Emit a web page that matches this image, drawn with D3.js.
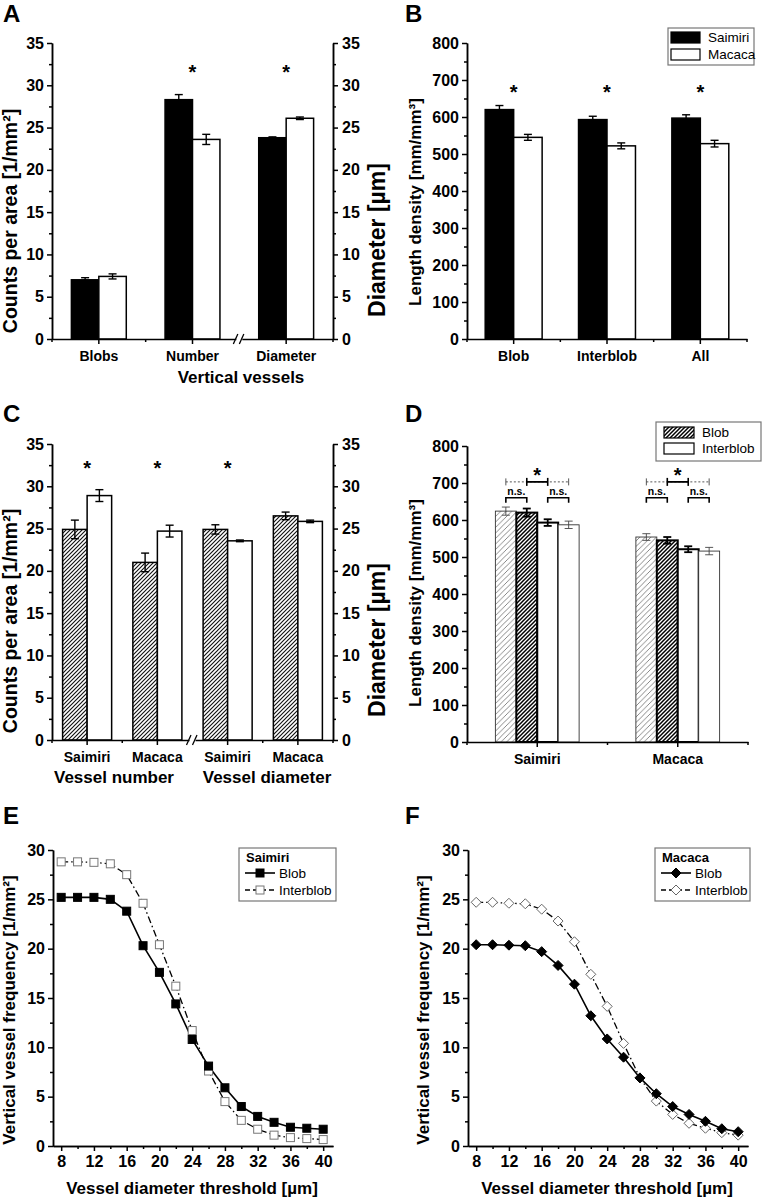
<!DOCTYPE html>
<html><head><meta charset="utf-8">
<script src="https://cdn.jsdelivr.net/npm/d3@7"></script>
<style>
body{margin:0;background:#fff}
svg text{font-family:"Liberation Sans",Arial,Helvetica,sans-serif}
</style>
</head><body>
<svg id="chart" width="762" height="1199"></svg>
<script>
// ---------------- DATA ----------------
const aCategories = ["Blobs", "Number", "Diameter"];
const aSaimiri = [7.0, 28.3, 23.8];
const aSaimiriErr = [0.25, 0.6, 0.1];
const aMacaca = [7.4, 23.6, 26.1];
const aMacacaErr = [0.3, 0.6, 0.15];
const aSignificant = [false, true, true];

const bCategories = ["Blob", "Interblob", "All"];
const bSaimiri = [620, 593, 597];
const bSaimiriErr = [11, 9, 9];
const bMacaca = [545, 522, 528];
const bMacacaErr = [8, 8, 9];
const bSignificant = [true, true, true];

const cCategories = ["Saimiri", "Macaca", "Saimiri", "Macaca"];
const cGroupLabels = ["Vessel number", "Vessel diameter"];
const cBlob = [24.9, 21.0, 24.9, 26.5];
const cBlobErr = [1.1, 1.1, 0.55, 0.45];
const cInterblob = [28.9, 24.7, 23.55, 25.85];
const cInterblobErr = [0.7, 0.7, 0.1, 0.15];
const cSignificant = [true, true, true, false];

const dCategories = ["Saimiri", "Macaca"];
const dBlobLight = [624, 554];
const dBlobLightErr = [11, 9];
const dBlob = [620, 545];
const dBlobErr = [11, 9];
const dInterblob = [593, 521];
const dInterblobErr = [9, 8];
const dInterblobLight = [587, 516];
const dInterblobLightErr = [10, 10];

const thresholds = [8, 10, 12, 14, 16, 18, 20, 22, 24, 26, 28, 30, 32, 34, 36, 38, 40];
const eSaimiriBlob = [25.2, 25.2, 25.2, 25.0, 23.8, 20.3, 17.6, 14.4, 10.8, 8.1, 5.9, 4.0, 3.0, 2.4, 1.9, 1.8, 1.7];
const eSaimiriInterblob = [28.8, 28.8, 28.75, 28.6, 27.5, 24.6, 20.4, 16.2, 11.7, 7.6, 4.5, 2.6, 1.7, 1.1, 0.85, 0.75, 0.65];
const fMacacaBlob = [20.4, 20.4, 20.35, 20.3, 19.7, 18.3, 16.4, 13.2, 10.85, 9.0, 6.9, 5.3, 4.0, 3.2, 2.5, 1.75, 1.45];
const fMacacaInterblob = [24.7, 24.7, 24.6, 24.55, 24.0, 22.8, 20.7, 17.4, 14.15, 10.4, 6.9, 4.55, 3.2, 2.3, 1.8, 1.35, 1.1];

// ---------------- SETUP ----------------
const svg = d3.select("#chart");
const defs = svg.append("defs");
function hatch(id, s, w, color) {
  const p = defs.append("pattern").attr("id", id).attr("patternUnits", "userSpaceOnUse")
    .attr("width", s).attr("height", s);
  p.append("rect").attr("width", s).attr("height", s).attr("fill", "#fff");
  p.append("path")
    .attr("d", `M${-s/2},${s/2}L${s/2},${-s/2}M0,${s}L${s},0M${s/2},${s*1.5}L${s*1.5},${s/2}`)
    .attr("stroke", color).attr("stroke-width", w);
}
hatch("hatchC", 4, 1.15, "#111");
hatch("hatchLight", 5.5, 0.7, "#555");
hatch("hatchBold", 4, 1.5, "#000");

const TICKFONT = 16, CATFONT = 14, TITLEFONT = 17;

function styleAxis(g) {
  g.selectAll(".domain").attr("stroke", "#000").attr("stroke-width", 1.5);
  g.selectAll(".tick line").attr("stroke", "#000").attr("stroke-width", 1.5);
  g.selectAll(".tick text").attr("fill", "#000").attr("font-weight", "bold")
    .style("font-family", '"Liberation Sans",Arial,sans-serif');
}

function yAxis(g, y, majors, minors, side, xpos, pad) {
  const mk = side === "left" ? d3.axisLeft : d3.axisRight;
  const gm = g.append("g").attr("transform", `translate(${xpos},0)`)
    .call(mk(y).tickValues(minors).tickSize(3).tickSizeOuter(0).tickFormat(""));
  styleAxis(gm);
  const gM = g.append("g").attr("transform", `translate(${xpos},0)`)
    .call(mk(y).tickValues(majors).tickSize(5).tickSizeOuter(0).tickPadding(pad));
  styleAxis(gM);
  gM.selectAll(".tick text").attr("font-size", TICKFONT);
}

function rotLabel(g, text, x, y, size) {
  g.append("text").attr("transform", `translate(${x},${y}) rotate(-90)`)
    .attr("text-anchor", "middle").attr("font-size", size || TITLEFONT).attr("font-weight", "bold")
    .text(text);
}

function panelLetter(g, t, x, y) {
  g.append("text").attr("x", x).attr("y", y).attr("font-size", 24).attr("font-weight", "bold").text(t);
}

function breakMark(g, x, y) {
  g.append("rect").attr("x", x - 3).attr("y", y - 3).attr("width", 6).attr("height", 6).attr("fill", "#fff");
  [-3, 3].forEach(dx => {
    g.append("line").attr("x1", x + dx - 3).attr("y1", y + 5).attr("x2", x + dx + 1.5).attr("y2", y - 5)
      .attr("stroke", "#000").attr("stroke-width", 1.3);
  });
}

// Generic bar panel
function barPanel(o) {
  const g = svg.append("g");
  const y = d3.scaleLinear().domain([0, o.yMax]).range([o.yB, o.yT]);
  const x = d3.scaleBand().domain(o.categories.map((c, i) => i)).range([o.xL, o.xR]).paddingInner(0).paddingOuter(0);
  const bw = x.bandwidth() * o.barFrac;
  const n = o.series.length;
  const inner = d3.scaleBand().domain(d3.range(n)).range([-bw * n / 2, bw * n / 2]);

  o.series.forEach((s, si) => {
    o.categories.forEach((c, i) => {
      const cx = x(i) + x.bandwidth() / 2;
      const x0 = cx + inner(si);
      g.append("rect").attr("x", x0).attr("y", y(s.values[i])).attr("width", inner.bandwidth())
        .attr("height", y(0) - y(s.values[i]))
        .attr("fill", s.fill).attr("stroke", s.stroke || "#000").attr("stroke-width", s.sw || 1.5);
      const ex = x0 + inner.bandwidth() / 2;
      const e = s.errs[i];
      const eg = g.append("g").attr("stroke", s.errColor || "#000").attr("stroke-width", s.esw || 1.4);
      const cw = s.capW || 4;
      eg.append("line").attr("x1", ex).attr("x2", ex).attr("y1", y(s.values[i] - e)).attr("y2", y(s.values[i] + e));
      eg.append("line").attr("x1", ex - cw).attr("x2", ex + cw).attr("y1", y(s.values[i] + e)).attr("y2", y(s.values[i] + e));
      eg.append("line").attr("x1", ex - cw).attr("x2", ex + cw).attr("y1", y(s.values[i] - e)).attr("y2", y(s.values[i] - e));
    });
  });

  const majors = d3.range(0, o.yMax + 1e-9, o.step);
  const minors = d3.range(o.step / 2, o.yMax, o.step);
  yAxis(g, y, majors, minors, "left", o.xL, 3);
  if (o.rightAxis) yAxis(g, y, majors, minors, "right", o.xR, 4);

  const gx = g.append("g").attr("transform", `translate(0,${o.yB})`)
    .call(d3.axisBottom(x).tickSize(5).tickSizeOuter(0).tickPadding(7).tickFormat(i => o.categories[i]));
  styleAxis(gx);
  gx.selectAll(".tick text").attr("font-size", CATFONT);
  for (let i = 0; i <= o.categories.length; i++) {
    const bx = o.xL + i * x.step();
    if (o.breakAt === i) continue;
    g.append("line").attr("x1", bx).attr("x2", bx).attr("y1", o.yB).attr("y2", o.yB + 3)
      .attr("stroke", "#000").attr("stroke-width", 1.5);
  }
  if (o.breakAt != null) breakMark(g, o.xL + o.breakAt * x.step(), o.yB);

  if (o.sig) {
    o.sig.forEach((s, i) => {
      if (!s) return;
      g.append("text").attr("x", x(i) + x.bandwidth() / 2).attr("y", y(o.sigLevel) + 12)
        .attr("text-anchor", "middle").attr("font-size", 20).attr("font-weight", "bold").text("*");
    });
  }
  return { g, x, y, inner };
}

// ---------------- PANEL A ----------------
const A = barPanel({
  xL: 52, xR: 333, yB: 339, yT: 43, yMax: 35, step: 5, rightAxis: true,
  categories: aCategories, barFrac: 0.293, breakAt: 2,
  series: [
    { values: aSaimiri, errs: aSaimiriErr, fill: "#000" },
    { values: aMacaca, errs: aMacacaErr, fill: "#fff" }
  ],
  sig: aSignificant, sigLevel: 32.2
});
panelLetter(A.g, "A", 3, 22);
rotLabel(A.g, "Counts per area [1/mm²]", 17, 221, 19.5);
rotLabel(A.g, "Diameter [µm]", 385, 240, 23);
A.g.append("text").attr("x", 241).attr("y", 383).attr("text-anchor", "middle")
  .attr("font-size", TITLEFONT).attr("font-weight", "bold").text("Vertical vessels");

// ---------------- PANEL B ----------------
const B = barPanel({
  xL: 467, xR: 747, yB: 339, yT: 43, yMax: 800, step: 100, rightAxis: false,
  categories: bCategories, barFrac: 0.305,
  series: [
    { values: bSaimiri, errs: bSaimiriErr, fill: "#000" },
    { values: bMacaca, errs: bMacacaErr, fill: "#fff" }
  ],
  sig: bSignificant, sigLevel: 681
});
panelLetter(B.g, "B", 405, 22);
rotLabel(B.g, "Length density [mm/mm³]", 421, 202);
{
  const lg = B.g.append("g");
  lg.append("rect").attr("x", 668).attr("y", 28).attr("width", 86).attr("height", 37)
    .attr("fill", "#fff").attr("stroke", "#777").attr("stroke-width", 1.2);
  [["Saimiri", "#000"], ["Macaca", "#fff"]].forEach((d, i) => {
    lg.append("rect").attr("x", 671).attr("y", 32 + i * 17).attr("width", 29).attr("height", 11)
      .attr("fill", d[1]).attr("stroke", "#000").attr("stroke-width", 1.2);
    lg.append("text").attr("x", 708).attr("y", 42 + i * 17).attr("font-size", 13.5).text(d[0]);
  });
}

// ---------------- PANEL C ----------------
const C = barPanel({
  xL: 52, xR: 333, yB: 740, yT: 444, yMax: 35, step: 5, rightAxis: true,
  categories: cCategories, barFrac: 0.349, breakAt: 2,
  series: [
    { values: cBlob, errs: cBlobErr, fill: "url(#hatchC)" },
    { values: cInterblob, errs: cInterblobErr, fill: "#fff" }
  ],
  sig: cSignificant, sigLevel: 32.7
});
panelLetter(C.g, "C", 3, 422);
rotLabel(C.g, "Counts per area [1/mm²]", 17, 621, 19.5);
rotLabel(C.g, "Diameter [µm]", 385, 640, 23);
C.g.append("text").attr("x", 114).attr("y", 783).attr("text-anchor", "middle")
  .attr("font-size", TITLEFONT).attr("font-weight", "bold").text(cGroupLabels[0]);
C.g.append("text").attr("x", 267).attr("y", 783).attr("text-anchor", "middle")
  .attr("font-size", TITLEFONT).attr("font-weight", "bold").text(cGroupLabels[1]);

// ---------------- PANEL D ----------------
const D = barPanel({
  xL: 467, xR: 748, yB: 742, yT: 446, yMax: 800, step: 100, rightAxis: false,
  categories: dCategories, barFrac: 0.149,
  series: [
    { values: dBlobLight, errs: dBlobLightErr, fill: "url(#hatchLight)", stroke: "#333", sw: 0.9, esw: 0.9, errColor: "#444" },
    { values: dBlob, errs: dBlobErr, fill: "url(#hatchBold)", sw: 2, esw: 1.8 },
    { values: dInterblob, errs: dInterblobErr, fill: "#fff", sw: 2, esw: 1.8 },
    { values: dInterblobLight, errs: dInterblobLightErr, fill: "#fff", stroke: "#333", sw: 0.9, esw: 0.9, errColor: "#444" }
  ]
});
panelLetter(D.g, "D", 405, 422);
rotLabel(D.g, "Length density [mm/mm³]", 421, 603);
{
  const g = D.g;
  dCategories.forEach((c, i) => {
    const cx = D.x(i) + D.x.bandwidth() / 2;
    const bc = k => cx + D.inner(k) + D.inner.bandwidth() / 2;
    const yd = D.y(703), yb = D.y(660);
    g.append("line").attr("x1", bc(0)).attr("x2", bc(3)).attr("y1", yd).attr("y2", yd)
      .attr("stroke", "#444").attr("stroke-width", 0.9).attr("stroke-dasharray", "2,2");
    [0, 3].forEach(k => g.append("line").attr("x1", bc(k)).attr("x2", bc(k)).attr("y1", yd - 3.5).attr("y2", yd + 3.5)
      .attr("stroke", "#444").attr("stroke-width", 0.9));
    g.append("line").attr("x1", bc(1)).attr("x2", bc(2)).attr("y1", yd).attr("y2", yd)
      .attr("stroke", "#000").attr("stroke-width", 1.8);
    [1, 2].forEach(k => g.append("line").attr("x1", bc(k)).attr("x2", bc(k)).attr("y1", yd - 4).attr("y2", yd + 4)
      .attr("stroke", "#000").attr("stroke-width", 1.6));
    g.append("text").attr("x", (bc(1) + bc(2)) / 2).attr("y", D.y(735) + 12).attr("text-anchor", "middle")
      .attr("font-size", 20).attr("font-weight", "bold").text("*");
    [[0, 1], [2, 3]].forEach(([a, b]) => {
      g.append("path").attr("d", `M${bc(a)},${yb + 5}V${yb}H${bc(b)}V${yb + 5}`)
        .attr("fill", "none").attr("stroke", "#000").attr("stroke-width", 1.6);
      g.append("text").attr("x", (bc(a) + bc(b)) / 2).attr("y", yb - 3).attr("text-anchor", "middle")
        .attr("font-size", 10.5).attr("font-weight", "bold").text("n.s.");
    });
  });
  const lg = g.append("g");
  lg.append("rect").attr("x", 656).attr("y", 422).attr("width", 105).attr("height", 39)
    .attr("fill", "#fff").attr("stroke", "#777").attr("stroke-width", 1.2);
  [["Blob", "url(#hatchBold)"], ["Interblob", "#fff"]].forEach((d, i) => {
    lg.append("rect").attr("x", 664).attr("y", 427 + i * 16).attr("width", 30).attr("height", 11)
      .attr("fill", d[1]).attr("stroke", "#000").attr("stroke-width", 1.2);
    lg.append("text").attr("x", 702).attr("y", 437 + i * 16).attr("font-size", 13.5).text(d[0]);
  });
}

// ---------------- LINE PANELS ----------------
function linePanel(o) {
  const g = svg.append("g");
  const x = d3.scaleLinear().domain([7, 41.2]).range([o.xL, o.xR]);
  const y = d3.scaleLinear().domain([0, 30]).range([o.yB, o.yT]);
  yAxis(g, y, d3.range(0, 31, 5), d3.range(2.5, 30, 5), "left", o.xL, 3);
  const gxm = g.append("g").attr("transform", `translate(0,${o.yB})`)
    .call(d3.axisBottom(x).tickValues(d3.range(10, 40, 4)).tickSize(3).tickSizeOuter(0).tickFormat(""));
  styleAxis(gxm);
  const gx = g.append("g").attr("transform", `translate(0,${o.yB})`)
    .call(d3.axisBottom(x).tickValues(d3.range(8, 41, 4)).tickSize(5).tickSizeOuter(0).tickPadding(5));
  styleAxis(gx);
  gx.selectAll(".tick text").attr("font-size", TICKFONT);

  const line = d3.line().x((d, i) => x(thresholds[i])).y(d => y(d));
  g.append("path").datum(o.inter).attr("d", line).attr("fill", "none").attr("stroke", "#000")
    .attr("stroke-width", 1.3).attr("stroke-dasharray", "7,3,1.5,3");
  g.append("path").datum(o.blob).attr("d", line).attr("fill", "none").attr("stroke", "#000")
    .attr("stroke-width", 1.6);
  const marker = (sel, kind, filled) => {
    if (kind === "square") {
      sel.append("rect").attr("x", -4).attr("y", -4).attr("width", 8).attr("height", 8)
        .attr("fill", filled ? "#000" : "#fff").attr("stroke", filled ? "#000" : "#777").attr("stroke-width", 1);
    } else {
      sel.append("path").attr("d", "M0,-5L5,0L0,5L-5,0Z")
        .attr("fill", filled ? "#000" : "#fff").attr("stroke", filled ? "#000" : "#666").attr("stroke-width", 1);
    }
  };
  o.inter.forEach((v, i) => marker(g.append("g").attr("transform", `translate(${x(thresholds[i])},${y(v)})`), o.kind, false));
  o.blob.forEach((v, i) => marker(g.append("g").attr("transform", `translate(${x(thresholds[i])},${y(v)})`), o.kind, true));

  const L = o.legend;
  const lg = g.append("g");
  lg.append("rect").attr("x", L.x).attr("y", 848).attr("width", L.w).attr("height", 53)
    .attr("fill", "#fff").attr("stroke", "#777").attr("stroke-width", 1.2);
  lg.append("text").attr("x", L.x + 7).attr("y", 862).attr("font-size", 13).attr("font-weight", "bold").text(o.title);
  [["Blob", true, null], ["Interblob", false, "5,3"]].forEach((d, i) => {
    const ly = 873 + i * 17;
    lg.append("line").attr("x1", L.x + 6).attr("x2", L.x + 36).attr("y1", ly).attr("y2", ly)
      .attr("stroke", "#000").attr("stroke-width", d[1] ? 1.6 : 1.3).attr("stroke-dasharray", d[2]);
    marker(lg.append("g").attr("transform", `translate(${L.x + 21},${ly})`), o.kind, d[1]);
    lg.append("text").attr("x", L.x + 40).attr("y", ly + 5).attr("font-size", 13.5).text(d[0]);
  });
  rotLabel(g, "Vertical vessel frequency [1/mm²]", o.labX, 1010);
  g.append("text").attr("x", (o.xL + o.xR) / 2 - 1).attr("y", 1194).attr("text-anchor", "middle")
    .attr("font-size", TITLEFONT).attr("font-weight", "bold").text("Vessel diameter threshold [µm]");
  return g;
}

const E = linePanel({ xL: 53, xR: 333, yB: 1146, yT: 850, blob: eSaimiriBlob, inter: eSaimiriInterblob,
  kind: "square", title: "Saimiri", legend: { x: 239, w: 97 }, labX: 15 });
panelLetter(E, "E", 3, 824);
const F = linePanel({ xL: 468, xR: 748, yB: 1146, yT: 850, blob: fMacacaBlob, inter: fMacacaInterblob,
  kind: "diamond", title: "Macaca", legend: { x: 655, w: 95 }, labX: 429 });
panelLetter(F, "F", 405, 824);
</script>
</body></html>
